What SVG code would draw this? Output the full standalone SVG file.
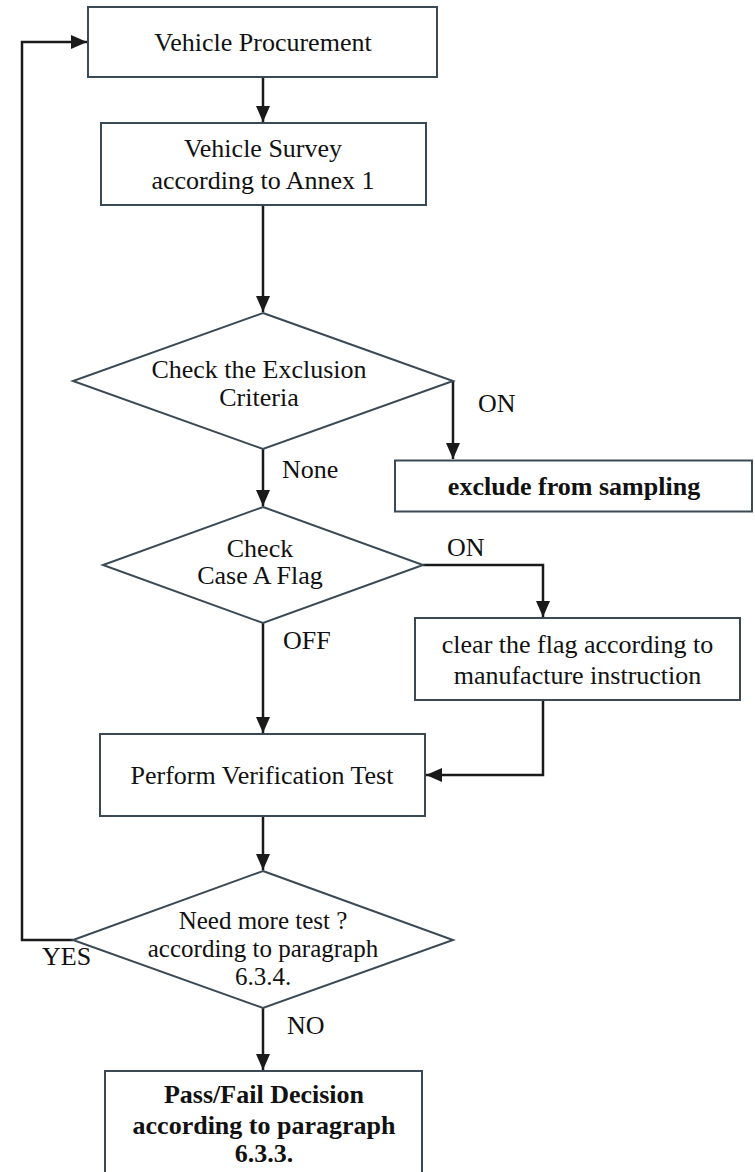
<svg xmlns="http://www.w3.org/2000/svg" width="755" height="1172" viewBox="0 0 755 1172">
<style>
  .box { fill: #ffffff; stroke: #3b4954; stroke-width: 2; }
  .t { font-size: 26px; fill: #111111; text-anchor: middle; }
  .s { font-size: 25px; }
  .b { font-weight: bold; }
  .lbl { font-size: 26px; fill: #111111; }
  .conn { fill: none; stroke: #1a1a1a; stroke-width: 2.5; }
</style>
<defs>
  <marker id="arrow" markerUnits="userSpaceOnUse" markerWidth="16" markerHeight="14" refX="16" refY="7" orient="auto">
    <path d="M0,0 L16,7 L0,14 Z" fill="#1a1a1a"/>
  </marker>
</defs>
<rect width="755" height="1172" fill="#ffffff"/>
<g font-family="Liberation Serif, Tinos, Times New Roman, DejaVu Serif, serif">
<g id="connectors">
  <path class="conn" d="M263,77 V122" marker-end="url(#arrow)"/>
  <path class="conn" d="M263,205 V312" marker-end="url(#arrow)"/>
  <path class="conn" d="M453,381 V459" marker-end="url(#arrow)"/>
  <path class="conn" d="M263,449 V506" marker-end="url(#arrow)"/>
  <path class="conn" d="M423,565 H543 V617" marker-end="url(#arrow)"/>
  <path class="conn" d="M263,623 V733" marker-end="url(#arrow)"/>
  <path class="conn" d="M543,700 V775 H426" marker-end="url(#arrow)"/>
  <path class="conn" d="M263,816 V870" marker-end="url(#arrow)"/>
  <path class="conn" d="M73,940 H22 V42 H87" marker-end="url(#arrow)"/>
  <path class="conn" d="M263,1008 V1070" marker-end="url(#arrow)"/>
  <text class="lbl" x="478" y="412">ON</text>
  <text class="lbl" x="282" y="478">None</text>
  <text class="lbl" x="447" y="556">ON</text>
  <text class="lbl" x="283" y="649">OFF</text>
  <text class="lbl" x="42" y="965">YES</text>
  <text class="lbl" x="287" y="1034">NO</text>
</g>

<g id="procurement">
  <rect class="box" x="88" y="7" width="349" height="70"/>
  <text class="t" x="263" y="51">Vehicle Procurement</text>
</g>
<g id="survey">
  <rect class="box" x="101" y="123" width="325" height="82"/>
  <text class="t" x="263" y="157">Vehicle Survey</text>
  <text class="t" x="263" y="189">according to Annex 1</text>
</g>
<g id="exclusion">
  <polygon class="box" points="263,313 453,381 263,449 73,381"/>
  <text class="t" x="259" y="378">Check the Exclusion</text>
  <text class="t" x="259" y="406">Criteria</text>
</g>
<g id="exclude">
  <rect class="box" x="395" y="460.5" width="357" height="51"/>
  <text class="t b" x="574" y="495">exclude from sampling</text>
</g>
<g id="caseA">
  <polygon class="box" points="263,507 423,565 263,623 103,565"/>
  <text class="t" x="260" y="557">Check</text>
  <text class="t" x="260" y="584">Case A Flag</text>
</g>
<g id="clearflag">
  <rect class="box" x="415" y="618" width="325" height="82"/>
  <text class="t" x="577.5" y="653">clear the flag according to</text>
  <text class="t" x="577.5" y="684">manufacture instruction</text>
</g>
<g id="verification">
  <rect class="box" x="100" y="734" width="325" height="82"/>
  <text class="t" x="262" y="784">Perform Verification Test</text>
</g>
<g id="moretest">
  <polygon class="box" points="263,871 453,940 263,1008 73,940"/>
  <text class="t s" x="263" y="929">Need more test ?</text>
  <text class="t s" x="263" y="957">according to paragraph</text>
  <text class="t s" x="263" y="985">6.3.4.</text>
</g>
<g id="decision">
  <rect class="box" x="105" y="1071" width="317" height="115"/>
  <text class="t b" x="264" y="1103">Pass/Fail Decision</text>
  <text class="t b" x="264" y="1134">according to paragraph</text>
  <text class="t b" x="264" y="1162">6.3.3.</text>
</g>
</g>
</svg>
